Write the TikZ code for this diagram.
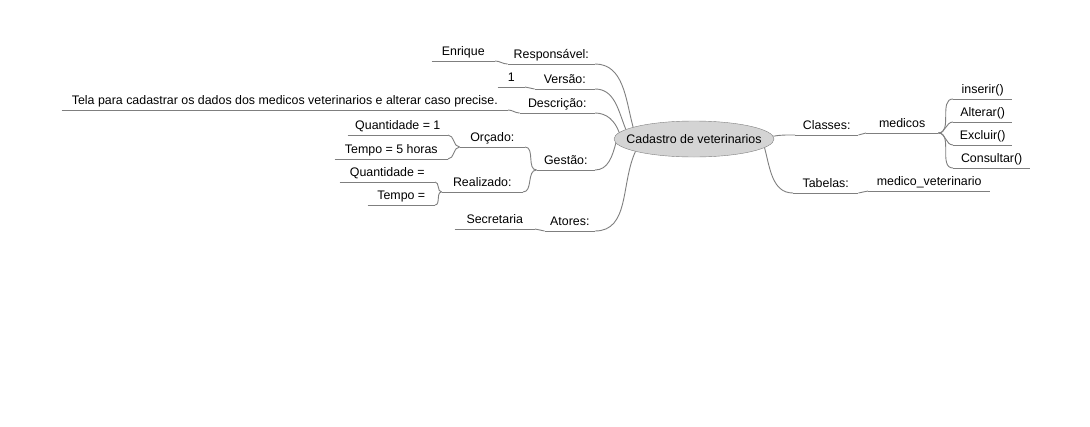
\documentclass[tikz,border=0pt]{standalone}
\usepackage{fontspec}
\setmainfont{Liberation Sans}
\usetikzlibrary{shapes.geometric}
\definecolor{edgegray}{HTML}{7F7F7F}
\definecolor{rootfill}{HTML}{D4D4D4}
\tikzset{
  topic/.style={inner xsep=0pt, inner ysep=0pt, text height=9pt, text depth=5pt},
  lnode/.style={topic, anchor=south east},
  rnode/.style={topic, anchor=south west},
  branch/.style={draw=edgegray, line width=0.9pt},
}
\begin{document}
\begin{tikzpicture}[x=1pt, y=1pt, font=\fontsize{12.4}{14}\selectfont]
  \useasboundingbox (0,0) rectangle (1090,-426);
  % root
  \node[ellipse, draw=edgegray, fill=rootfill, minimum width=160pt, minimum height=36pt, inner xsep=-11pt, inner ysep=0pt] at (694,-139) (root) {Cadastro de veterinarios};
  % left side
  \node[lnode, minimum width=87pt] at (595,-64) (resp) {Responsável:};
  \node[lnode, minimum width=63pt] at (495,-61) (enri) {Enrique};
  \node[lnode, minimum width=60pt] at (595,-89) (vers) {Versão:};
  \node[lnode, minimum width=27pt] at (525,-87) (one) {1};
  \node[lnode, minimum width=75pt] at (595,-113) (desc) {Descrição:};
  \node[lnode, minimum width=446pt] at (508,-110) (tela) {Tela para cadastrar os dados dos medicos veterinarios e alterar caso precise.};
  \node[lnode, minimum width=58pt] at (595,-170) (gest) {Gestão:};
  \node[lnode, minimum width=65pt] at (525,-147) (orca) {Orçado:};
  \node[lnode, minimum width=100pt] at (448,-135) (qtdo) {Quantidade = 1};
  \node[lnode, minimum width=113pt] at (448,-159) (tmpo) {Tempo = 5 horas};
  \node[lnode, minimum width=81pt] at (523,-192) (real) {Realizado:};
  \node[lnode, minimum width=95pt] at (435,-182) (qtdr) {Quantidade =};
  \node[lnode, minimum width=67pt] at (435,-205) (tmpr) {Tempo =};
  \node[lnode, minimum width=50pt] at (595,-231) (ator) {Atores:};
  \node[lnode, minimum width=80pt] at (535,-229) (secr) {Secretaria};
  % right side
  \node[rnode, minimum width=63pt] at (795,-135) (clas) {Classes:};
  \node[rnode, minimum width=72pt] at (866,-133) (medi) {medicos};
  \node[rnode, minimum width=59pt] at (953,-99) (inse) {inserir()};
  \node[rnode, minimum width=59pt] at (953,-122) (alte) {Alterar()};
  \node[rnode, minimum width=59pt] at (953,-145) (excl) {Excluir()};
  \node[rnode, minimum width=77pt] at (953,-168) (cons) {Consultar()};
  \node[rnode, minimum width=65pt] at (793,-193) (tabe) {Tabelas:};
  \node[rnode, minimum width=122pt] at (868,-191) (mvet) {medico\_veterinario};
  % underlines
  \foreach \n in {resp,enri,vers,one,desc,tela,gest,orca,qtdo,tmpo,real,qtdr,tmpr,ator,secr,clas,medi,inse,alte,excl,cons,tabe,mvet}
    \draw[branch] (\n.south west) -- (\n.south east);
  % edges from root
  \draw[branch] (root.169) to[out=105,in=0] (resp.south east);
  \draw[branch] (root.172) to[out=112,in=0] (vers.south east);
  \draw[branch] (root.175) to[out=110,in=0] (desc.south east);
  \draw[branch] (root.183) to[out=255,in=0] (gest.south east);
  \draw[branch] (root.192) to[out=245,in=0] (ator.south east);
  \draw[branch] (root.2) to[out=10,in=180] (clas.south west);
  \draw[branch] (root.353) to[out=285,in=180] (tabe.south west);
  % left children
  \draw[branch] (resp.south west) to[out=180,in=0] (enri.south east);
  \draw[branch] (vers.south west) to[out=180,in=0] (one.south east);
  \draw[branch] (desc.south west) to[out=180,in=0] (tela.south east);
  \draw[branch] (gest.south west) to[out=180,in=0] (orca.south east);
  \draw[branch] (gest.south west) to[out=180,in=0] (real.south east);
  \draw[branch] (orca.south west) to[out=180,in=0] (qtdo.south east);
  \draw[branch] (orca.south west) to[out=180,in=0] (tmpo.south east);
  \draw[branch] (real.south west) to[out=180,in=0] (qtdr.south east);
  \draw[branch] (real.south west) to[out=180,in=0] (tmpr.south east);
  \draw[branch] (ator.south west) to[out=180,in=0] (secr.south east);
  % right children
  \draw[branch] (clas.south east) to[out=0,in=180] (medi.south west);
  \draw[branch] (medi.south east) to[out=0,in=180] (inse.south west);
  \draw[branch] (medi.south east) to[out=0,in=180] (alte.south west);
  \draw[branch] (medi.south east) to[out=0,in=180] (excl.south west);
  \draw[branch] (medi.south east) to[out=0,in=180] (cons.south west);
  \draw[branch] (tabe.south east) to[out=0,in=180] (mvet.south west);
\end{tikzpicture}
\end{document}
